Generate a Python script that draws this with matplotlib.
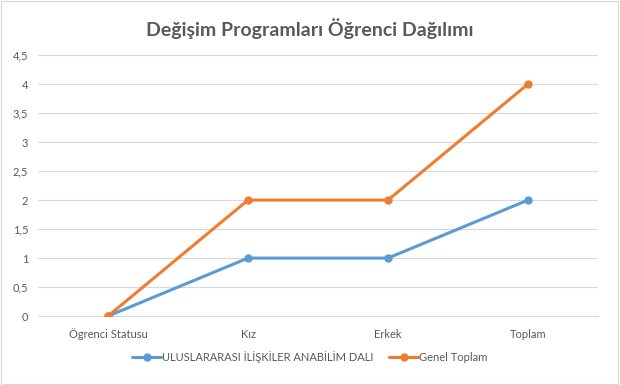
import matplotlib
matplotlib.use("Agg")
import matplotlib.pyplot as plt
from matplotlib.patches import Rectangle

plt.rcParams['font.family'] = ['Lato', 'DejaVu Sans']

categories = ["Ögrenci Statusu", "Kız", "Erkek", "Toplam"]
series_names = ["ULUSLARARASI İLİŞKİLER ANABİLİM DALI", "Genel Toplam"]
uluslararasi = [0, 1, 1, 2]
genel_toplam = [0, 2, 2, 4]
yticks = [0, 0.5, 1, 1.5, 2, 2.5, 3, 3.5, 4, 4.5]
ytick_labels = ["0", "0,5", "1", "1,5", "2", "2,5", "3", "3,5", "4", "4,5"]
title = "Değişim Programları Öğrenci Dağılımı"

colors = ["#5B9BD5", "#ED7D31"]
txt = "#595959"

fig = plt.figure(figsize=(6.2, 3.85), dpi=100)
fig.patches.append(Rectangle((0.002, 0.003), 0.995, 0.994, transform=fig.transFigure,
                             fill=False, edgecolor="#D9D9D9", lw=0.8))
ax = fig.add_axes([0.0613, 0.179, 0.9032, 0.678])

x = list(range(len(categories)))
for vals, name, c in zip([uluslararasi, genel_toplam], series_names, colors):
    ax.plot(x, vals, color=c, lw=2.2, marker="o", markersize=5, label=name,
            solid_capstyle="round", zorder=3)

ax.set_xlim(-0.5, 3.5)
ax.set_ylim(0, 4.5)
ax.set_yticks(yticks)
ax.set_yticklabels(ytick_labels)
ax.set_xticks(x)
ax.set_xticklabels(categories)
ax.grid(axis="y", color="#D9D9D9", lw=0.8)
ax.set_axisbelow(True)
for s in ["top", "right", "left"]:
    ax.spines[s].set_visible(False)
ax.spines["bottom"].set_color("#D9D9D9")
ax.tick_params(axis="both", length=0, labelsize=8, colors=txt)
ax.tick_params(axis="y", pad=7)
ax.tick_params(axis="x", pad=9)

fig.text(0.5, 0.925, title, ha="center", va="center", fontsize=14, fontweight="bold", color=txt)

fig.legend(loc="center", bbox_to_anchor=(0.5, 0.073), ncol=2, frameon=False,
           fontsize=8, labelcolor=txt, handlelength=2.6, columnspacing=1.4, handletextpad=0.1)

fig.savefig("out.png", dpi=100)
